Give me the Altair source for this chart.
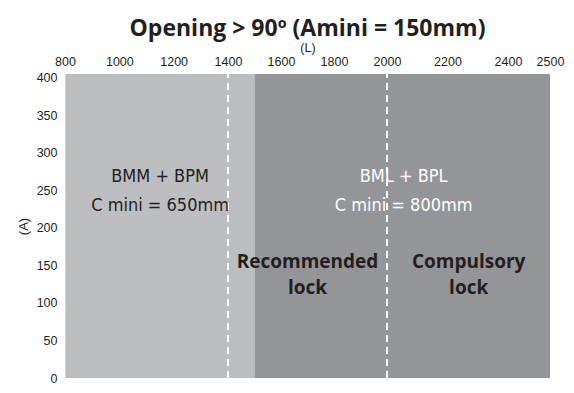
import altair as alt
import pandas as pd

# ---- data ----
x_ticks = [800, 1000, 1200, 1400, 1600, 1800, 2000, 2200, 2400, 2500]
y_ticks = [0, 50, 100, 150, 200, 250, 300, 350, 400]
# the reference axis is not evenly spaced: anchor breakpoints of the axis
x_breaks = [800, 1400, 2000, 2400, 2500]
x_break_px = [0, 163, 322, 443, 485]
y_max = 405

zone_start = [800, 1500]
zone_end = [1500, 2500]
zone_name = ["light", "dark"]
zone_color = ["#bcbdc1", "#939598"]

dashed_x = [1400, 2000]

kit_x = [1150, 2055]
kit_line1 = ["BMM + BPM", "BML + BPL"]
kit_line2 = ["C mini = 650mm", "C mini = 800mm"]
kit_color = ["#231f20", "#ffffff"]

lock_x = [1700, 2270]
lock_line1 = ["Recommended", "Compulsory"]
lock_line2 = ["lock", "lock"]

NARROW = "Liberation Sans"
COND = "DejaVu Sans Condensed"
BOLD = "Open Sans"

zones = pd.DataFrame({"x": zone_start, "x2": zone_end, "y": [0, 0],
                      "y2": [y_max, y_max], "zone": zone_name})
dashes = pd.DataFrame({"x": dashed_x, "y": [0, 0], "y2": [y_max, y_max]})
kits = pd.DataFrame({"x": kit_x, "l1": kit_line1, "l2": kit_line2,
                     "c": kit_color, "y1": [268, 268], "y2": [229, 229]})
locks = pd.DataFrame({"x": lock_x, "l1": lock_line1, "l2": lock_line2,
                      "y1": [155, 155], "y2": [120, 120]})

xscale = alt.Scale(domain=x_breaks, range=x_break_px, nice=False, zero=False)
yscale = alt.Scale(domain=[0, y_max], nice=False)

ax = alt.Axis(orient="top", values=x_ticks, format="d", ticks=False,
              domain=False, grid=False, labelFlush=False,
              labelOverlap=False, labelPadding=6,
              labelFont=NARROW, labelFontSize=12.5, labelColor="#231f20",
              title="(L)", titleFont=NARROW, titleFontSize=12.5,
              titleFontWeight="normal", titleColor="#231f20",
              titlePadding=1)
ay = alt.Axis(values=y_ticks, format="d", ticks=False, domain=True,
              domainColor="#c5d2e0", domainWidth=1, grid=False, zindex=1,
              labelOverlap=False, labelFlush=False,
              labelPadding=8, labelFont=NARROW, labelFontSize=12.5,
              labelColor="#231f20", title="(A)", titleFont=NARROW,
              titleFontSize=13, titleFontWeight="normal",
              titleColor="#231f20", titlePadding=6)


def px(field="x"):
    return alt.X(f"{field}:Q", scale=xscale, axis=ax)


def py(field):
    return alt.Y(f"{field}:Q", scale=yscale, axis=ay)


rects = alt.Chart(zones).mark_rect().encode(
    x=px(), x2="x2:Q", y=py("y"), y2="y2:Q",
    color=alt.Color("zone:N", scale=alt.Scale(domain=zone_name, range=zone_color),
                    legend=None),
)

rules = alt.Chart(dashes).mark_rule(color="white", strokeWidth=2,
                                    strokeDash=[7, 5]).encode(
    x=px(), y=py("y"), y2="y2:Q")

kit1 = alt.Chart(kits).mark_text(font=COND, fontSize=18, align="center",
                                 baseline="middle").encode(
    x=px(), y=py("y1"), text="l1:N", color=alt.Color("c:N", scale=None))
kit2 = alt.Chart(kits).mark_text(font=COND, fontSize=18, align="center",
                                 baseline="middle").encode(
    x=px(), y=py("y2"), text="l2:N", color=alt.Color("c:N", scale=None))

lock1 = alt.Chart(locks).mark_text(font=BOLD, fontWeight="bold", fontSize=19,
                                   color="#231f20", align="center",
                                   baseline="middle").encode(
    x=px(), y=py("y1"), text="l1:N")
lock2 = alt.Chart(locks).mark_text(font=BOLD, fontWeight="bold", fontSize=19,
                                   color="#231f20", align="center",
                                   baseline="middle").encode(
    x=px(), y=py("y2"), text="l2:N")

chart = alt.layer(rects, rules, kit1, kit2, lock1, lock2).properties(
    width=485, height=304,
    autosize=alt.AutoSizeParams(type="none"),
    padding={"left": 57, "top": 66, "right": 16, "bottom": 7},
    title=alt.TitleParams("Opening > 90º (Amini = 150mm)", font=BOLD,
                          fontWeight="bold", fontSize=23, color="#231f20",
                          anchor="middle", offset=0),
).configure_view(stroke=None)

chart.save("out.html", embed_options={"renderer": "svg", "actions": False})
